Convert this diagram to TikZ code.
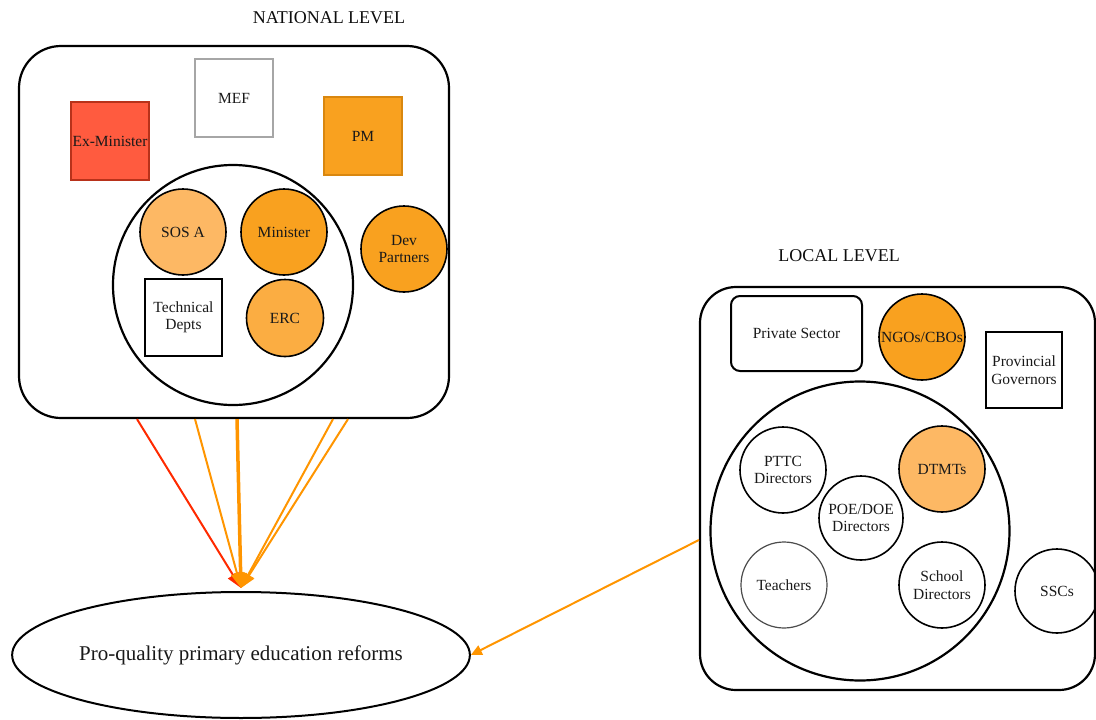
\documentclass[tikz,border=0pt]{standalone}
\usepackage{fontspec}
\setmainfont{Liberation Serif}
\usetikzlibrary{shapes.geometric,arrows.meta}
\definecolor{redfill}{HTML}{FF5B3F}
\definecolor{redline}{HTML}{B8321A}
\definecolor{orfill}{HTML}{F9A11F}
\definecolor{orline}{HTML}{D9870F}
\definecolor{ltor}{HTML}{FDB864}
\definecolor{midor}{HTML}{FBAD42}
\definecolor{arrred}{HTML}{FF2A00}
\definecolor{arror}{HTML}{FF9500}
\tikzset{
  lbl/.style={font=\fontsize{15.5}{17.5}\selectfont, align=center, text=black!90},
  sq/.style={lbl, draw, line width=2, minimum width=78, minimum height=78, inner sep=0},
  circ/.style={lbl, circle, draw, line width=1.6, minimum size=86, inner sep=0},
  big/.style={draw, line width=2.2, rounded corners=42, inner sep=0},
  ring/.style={circle, draw, line width=2.2, inner sep=0},
  title/.style={font=\fontsize{18}{20}\selectfont, text=black!95},
  arr/.style={line width=2, -{Triangle[length=15,width=12]}},
}
\begin{document}
\begin{tikzpicture}[x=1pt,y=-1pt]
\useasboundingbox (0,0) rectangle (1096,720);
% National level
\node[title] (ntitle) at (329,18) {NATIONAL LEVEL};
\node[big, minimum width=430, minimum height=372] (nat) at (234,232) {};
\node[sq, draw=gray!70, line width=1.5] (mef) at (234,98) {MEF};
\node[sq, fill=redfill, draw=redline] (exmin) at (110,141) {Ex-Minister};
\node[sq, fill=orfill, draw=orline, line width=1.5] (pm) at (363,136) {PM};
\node[ring, minimum size=240] (ninner) at (233,285) {};
\node[circ, fill=ltor] (sosa) at (183,232) {SOS A};
\node[circ, fill=orfill] (minister) at (284,232) {Minister};
\node[circ, fill=orfill] (dev) at (404,249) {Dev\\Partners};
\node[sq, minimum width=77, minimum height=77] (tech) at (183.5,317.5) {Technical\\Depts};
\node[circ, fill=midor, minimum size=77] (erc) at (285,318) {ERC};
% Goal
\node[ellipse, draw, line width=2, minimum width=456, minimum height=126, inner sep=0,
      font=\fontsize{21}{23}\selectfont, text=black!90] (goal) at (241,655) {Pro-quality primary education reforms};
% Arrows national -> goal
\coordinate (a1) at ([xshift=-97]nat.south);
\coordinate (a2) at ([xshift=-39]nat.south);
\coordinate (a3) at ([xshift=3]nat.south);
\coordinate (a4) at ([xshift=99]nat.south);
\coordinate (a5) at ([xshift=114]nat.south);
\draw[arr, draw=arrred, fill=arrred] (a1) -- ([yshift=3]goal.north);
\draw[arr, draw=arror, fill=arror] (a2) -- ([yshift=3]goal.north);
\draw[arr, draw=arror, fill=arror, line width=3.5] (a3) -- ([yshift=3]goal.north);
\draw[arr, draw=arror, fill=arror] (a4) -- ([yshift=3]goal.north);
\draw[arr, draw=arror, fill=arror] (a5) -- ([yshift=3]goal.north);
% Local level
\node[title] (ltitle) at (839,256) {LOCAL LEVEL};
\node[big, rounded corners=36, minimum width=395, minimum height=403] (loc) at (897.5,488.5) {};
\node[lbl, draw, line width=2, rounded corners=9, minimum width=131, minimum height=75] (priv) at (796.5,333.5) {Private Sector};
\node[circ, fill=orfill] (ngo) at (922,337) {NGOs/CBOs};
\node[sq, minimum width=76, minimum height=76] (prov) at (1024,370) {Provincial\\Governors};
\node[ring, minimum size=299] (linner) at (860,531) {};
\node[circ] (pttc) at (783,470) {PTTC\\Directors};
\node[circ, fill=ltor] (dtmt) at (942,469) {DTMTs};
\node[circ, minimum size=84] (poe) at (861,518) {POE/DOE\\Directors};
\node[circ, draw=black!70, line width=1.2] (teach) at (784,585) {Teachers};
\node[circ] (school) at (942,585) {School\\Directors};
\node[circ, minimum size=84] (ssc) at (1057,591) {SSCs};
% Arrow local -> goal
\coordinate (b1) at ([yshift=-51.5]loc.west);
\draw[line width=2, draw=arror, fill=arror, -{Triangle[length=11,width=10]}] (b1) -- (goal.east);
\end{tikzpicture}
\end{document}
